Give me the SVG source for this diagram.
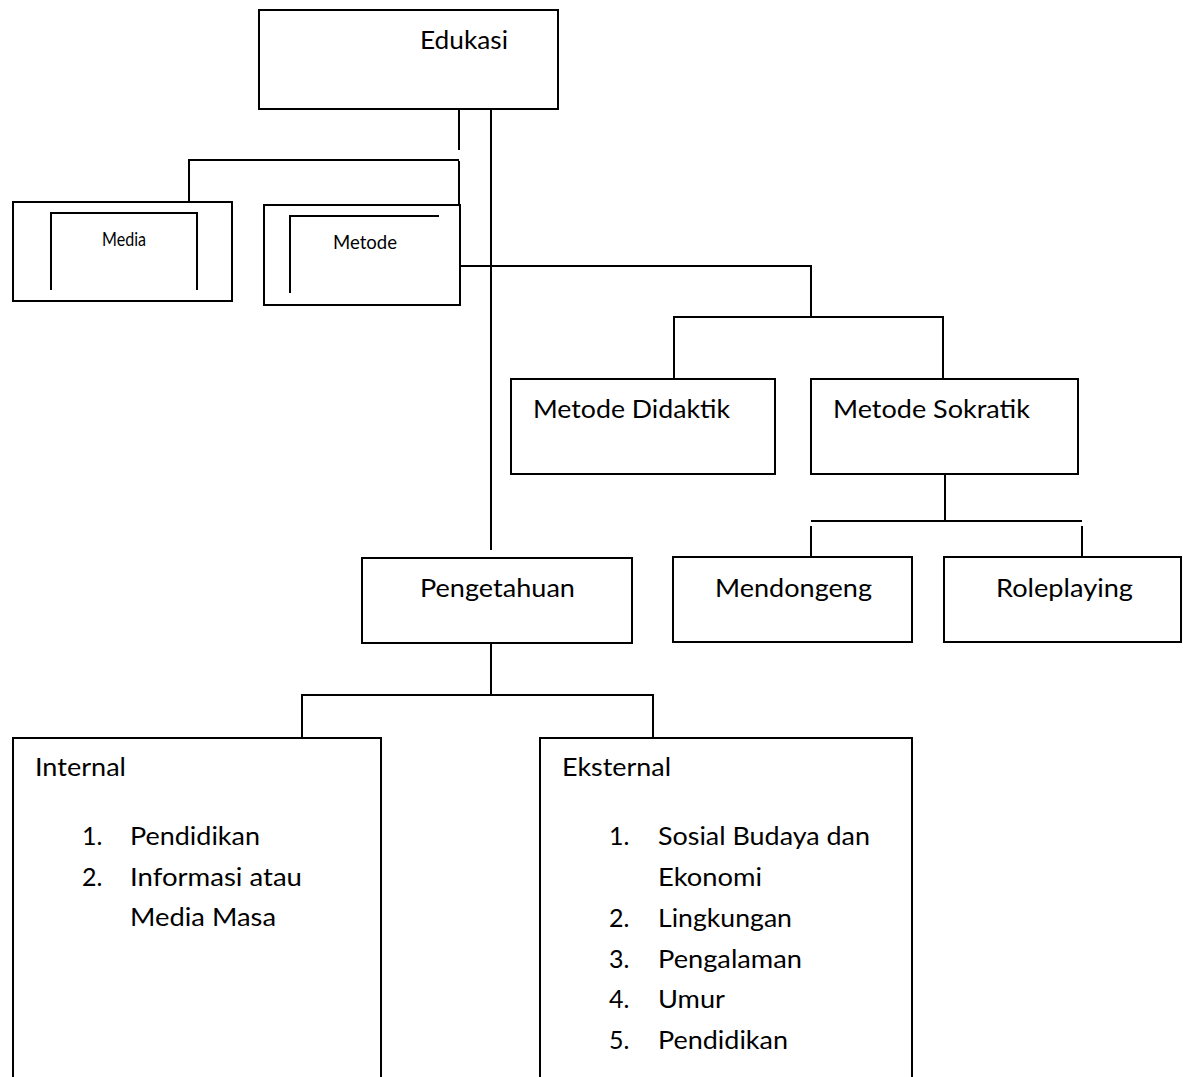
<svg xmlns="http://www.w3.org/2000/svg" width="1183" height="1077" viewBox="0 0 1183 1077">
<style>
.box{fill:#fff;stroke:#000;stroke-width:2}
.ln{fill:none;stroke:#000;stroke-width:2}
.t{font-family:Lato,"Noto Sans","Liberation Sans",sans-serif;font-size:25px;fill:#000}
.s{font-family:Lato,"Noto Sans","Liberation Sans",sans-serif;font-size:19px;fill:#000}
</style>
<rect width="1183" height="1077" fill="#fff"/>
<g id="connectors">
<line class="ln" x1="459" y1="108" x2="459" y2="150"/>
<polyline class="ln" points="189,202 189,160 459,160"/>
<line class="ln" x1="459" y1="161" x2="459" y2="205"/>
<line class="ln" x1="491" y1="108" x2="491" y2="550"/>
<polyline class="ln" points="460,266 811,266 811,317"/>
<polyline class="ln" points="674,379 674,317 943,317 943,379"/>
<line class="ln" x1="945" y1="474" x2="945" y2="521"/>
<line class="ln" x1="811" y1="521" x2="1082" y2="521"/>
<line class="ln" x1="811" y1="526" x2="811" y2="557"/>
<line class="ln" x1="1082" y1="526" x2="1082" y2="557"/>
<line class="ln" x1="491" y1="643" x2="491" y2="695"/>
<polyline class="ln" points="302,738 302,695 653,695 653,738"/>
</g>
<g id="edukasi">
<rect class="box" x="259" y="10" width="299" height="99"/>
<text class="t" x="420" y="49" textLength="88" lengthAdjust="spacingAndGlyphs">Edukasi</text>
</g>
<g id="media">
<rect class="box" x="13" y="202" width="219" height="99"/>
<polyline class="ln" points="51,290 51,213 197,213 197,290"/>
<text class="s" x="102" y="246" textLength="44" lengthAdjust="spacingAndGlyphs">Media</text>
</g>
<g id="metode">
<rect class="box" x="264" y="205" width="196" height="100"/>
<polyline class="ln" points="290,293 290,216 439,216"/>
<text class="s" x="333" y="249" textLength="64" lengthAdjust="spacingAndGlyphs">Metode</text>
</g>
<g id="metode-didaktik">
<rect class="box" x="511" y="379" width="264" height="95"/>
<text class="t" x="533" y="418" textLength="197" lengthAdjust="spacingAndGlyphs">Metode Didaktik</text>
</g>
<g id="metode-sokratik">
<rect class="box" x="811" y="379" width="267" height="95"/>
<text class="t" x="833" y="418" textLength="197" lengthAdjust="spacingAndGlyphs">Metode Sokratik</text>
</g>
<g id="mendongeng">
<rect class="box" x="673" y="557" width="239" height="85"/>
<text class="t" x="715" y="597" textLength="157" lengthAdjust="spacingAndGlyphs">Mendongeng</text>
</g>
<g id="roleplaying">
<rect class="box" x="944" y="557" width="237" height="85"/>
<text class="t" x="996" y="597" textLength="137" lengthAdjust="spacingAndGlyphs">Roleplaying</text>
</g>
<g id="pengetahuan">
<rect class="box" x="362" y="558" width="270" height="85"/>
<text class="t" x="420" y="597" textLength="155" lengthAdjust="spacingAndGlyphs">Pengetahuan</text>
</g>
<g id="internal">
<rect class="box" x="13" y="738" width="368" height="360"/>
<text class="t" x="35" y="776" textLength="91" lengthAdjust="spacingAndGlyphs">Internal</text>
<text class="t" x="82" y="845">1.</text>
<text class="t" x="130" y="845" textLength="130" lengthAdjust="spacingAndGlyphs">Pendidikan</text>
<text class="t" x="82" y="886">2.</text>
<text class="t" x="130" y="886" textLength="172" lengthAdjust="spacingAndGlyphs">Informasi atau</text>
<text class="t" x="130" y="926" textLength="146" lengthAdjust="spacingAndGlyphs">Media Masa</text>
</g>
<g id="eksternal">
<rect class="box" x="540" y="738" width="372" height="360"/>
<text class="t" x="562" y="776" textLength="109" lengthAdjust="spacingAndGlyphs">Eksternal</text>
<text class="t" x="609" y="845">1.</text>
<text class="t" x="658" y="845" textLength="212" lengthAdjust="spacingAndGlyphs">Sosial Budaya dan</text>
<text class="t" x="658" y="886" textLength="104" lengthAdjust="spacingAndGlyphs">Ekonomi</text>
<text class="t" x="609" y="927">2.</text>
<text class="t" x="658" y="927" textLength="134" lengthAdjust="spacingAndGlyphs">Lingkungan</text>
<text class="t" x="609" y="968">3.</text>
<text class="t" x="658" y="968" textLength="144" lengthAdjust="spacingAndGlyphs">Pengalaman</text>
<text class="t" x="609" y="1008">4.</text>
<text class="t" x="658" y="1008" textLength="67" lengthAdjust="spacingAndGlyphs">Umur</text>
<text class="t" x="609" y="1049">5.</text>
<text class="t" x="658" y="1049" textLength="130" lengthAdjust="spacingAndGlyphs">Pendidikan</text>
</g>
</svg>
